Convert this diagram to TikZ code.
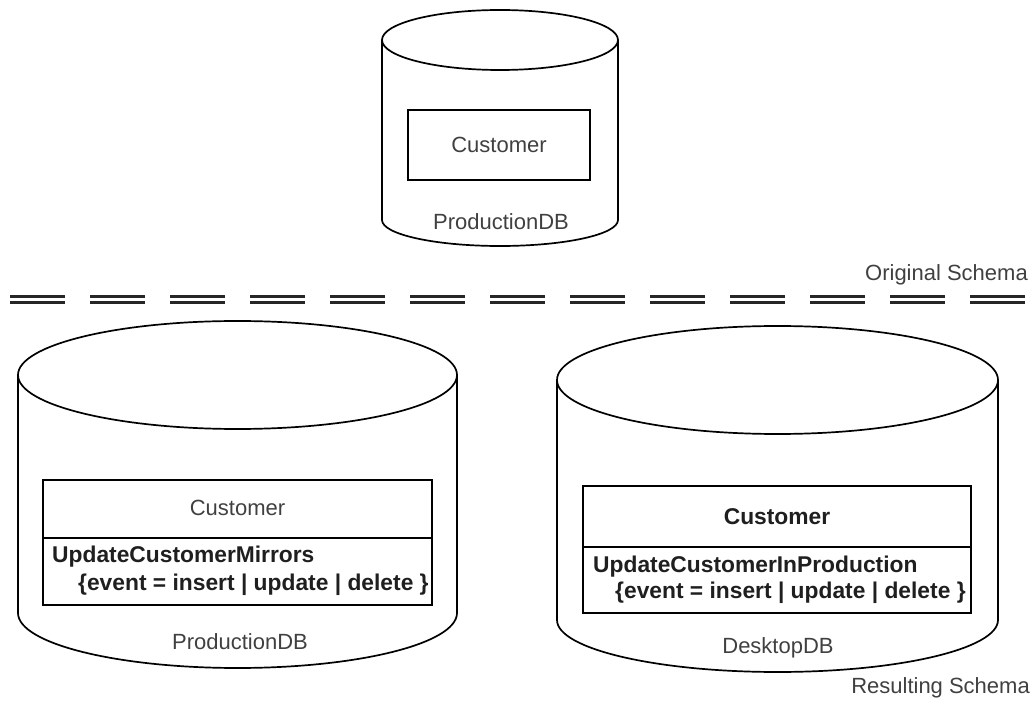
\documentclass[tikz,border=0pt]{standalone}
\usepackage{fontspec}
\setmainfont{Liberation Sans}
\begin{document}
\begin{tikzpicture}[x=1pt,y=1pt,
  cyl/.style={draw=black,line width=1.7pt},
  box/.style={draw=black,line width=1.7pt},
  lbl/.style={text=black!75,font=\fontsize{22}{26}\selectfont,inner sep=0pt},
  blbl/.style={text=black!88,font=\fontsize{22.8}{27}\selectfont\bfseries,inner sep=0pt},
  sep/.style={draw=black!85,line width=2.8pt,double=white,double distance=3.6pt,dash pattern=on 55pt off 25pt}
]
\useasboundingbox (0,0) rectangle (1036,702);

% ---- top cylinder (Original ProductionDB)
\draw[cyl] (500,662) ellipse [x radius=118pt, y radius=30pt];
\draw[cyl] (382,662) -- (382,482) arc[start angle=180,end angle=360,x radius=118pt,y radius=26pt] -- (618,662);
\node[box,minimum width=182pt,minimum height=70pt,inner sep=0pt] (c0) at (499,557) {};
\node[lbl] (c0t) at (c0.center) {Customer};
\node[lbl] (db0) at (501,480) {ProductionDB};

% ---- separator
\coordinate (sepL) at (10,402.5);
\coordinate (sepR) at (1030,402.5);
\draw[sep] (sepL) -- (sepR);
\node[lbl,anchor=east] (orig) at (1028,427) {Original Schema};

% ---- bottom left cylinder
\draw[cyl] (237.5,327) ellipse [x radius=219.5pt, y radius=54pt];
\draw[cyl] (18,327) -- (18,89) arc[start angle=180,end angle=360,x radius=219.5pt,y radius=55pt] -- (457,327);
\node[box,minimum width=389pt,minimum height=125pt,inner sep=0pt] (c1) at (237.5,159.5) {};
\draw[box] (43,164) -- (432,164);
\node[lbl] (c1t) at (237.5,194) {Customer};
\node[blbl,anchor=west] (m1a) at (52,145) {UpdateCustomerMirrors};
\node[blbl,anchor=west] (m1b) at (78,117) {\{event = insert | update | delete \}};
\node[lbl] (db1) at (240,60) {ProductionDB};

% ---- bottom right cylinder
\draw[cyl] (777.5,322) ellipse [x radius=220.5pt, y radius=54pt];
\draw[cyl] (557,322) -- (557,82) arc[start angle=180,end angle=360,x radius=220.5pt,y radius=52pt] -- (998,322);
\node[box,minimum width=388pt,minimum height=127pt,inner sep=0pt] (c2) at (777,152.5) {};
\draw[box] (583,155) -- (971,155);
\node[blbl] (c2t) at (777,185) {Customer};
\node[blbl,anchor=west] (m2a) at (593,135) {UpdateCustomerInProduction};
\node[blbl,anchor=west] (m2b) at (615,109) {\{event = insert | update | delete \}};
\node[lbl] (db2) at (778,54) {DesktopDB};

\node[lbl,anchor=east] (res) at (1030,14) {Resulting Schema};
\end{tikzpicture}
\end{document}
